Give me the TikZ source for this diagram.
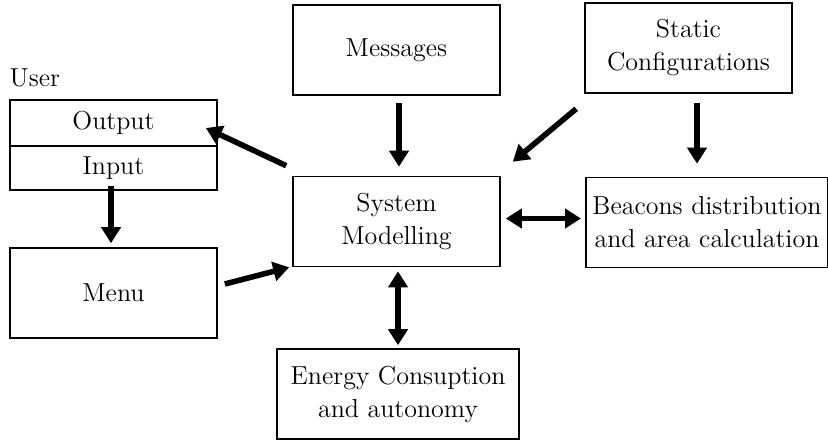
\documentclass[tikz,border=0pt]{standalone}
\usepackage{tikz}
\usetikzlibrary{positioning,calc,arrows.meta}

\begin{document}
\begin{tikzpicture}[x=0.5pt,y=-0.5pt,
    block/.style={draw, line width=0.8pt, minimum width=103.5pt, minimum height=45pt,
        align=center, font=\fontsize{13}{16.5}\selectfont},
    wideblock/.style={block, minimum width=121pt},
    arr/.style={line width=2.8pt, -{Triangle[length=8pt,width=9.5pt]}},
    dblarr/.style={line width=2.8pt, {Triangle[length=8pt,width=9.5pt]}-{Triangle[length=8pt,width=9.5pt]}}]
    \useasboundingbox (0,0) rectangle (828,441);

    % Inputs on top
    \node[block] (msg) at (396.5,50) {Messages};
    \node[block] (stat) at (688.5,48) {Static\\Configurations};

    % Model and its modules
    \node[block] (sys) at (396.5,221.5) {System\\Modelling};
    \node[wideblock] (bcn) at (707,222.5) {Beacons distribution\\and area calculation};
    \node[wideblock] (nrg) at (398,394) {Energy Consuption\\and autonomy};

    % User side
    \node[block, minimum height=23pt] (out) at (113.5,123) {Output};
    \node[block, minimum height=22pt] (in) at (113.5,168) {Input};
    \node[font=\fontsize{13}{16.5}\selectfont, above right=2.7pt and -3.3pt of out.north west] (user) {User};
    \node[block] (menu) at (113.5,293) {Menu};

    % Arrows
    \draw[arr] ([shift={(2.5,7)}]msg.south) -- ([shift={(2.5,-9)}]sys.north);
    \draw[arr] ([shift={(-8,15)}]stat.south west) -- ([shift={(12,-14)}]sys.north east);
    \draw[arr] ([shift={(8.5,9)}]stat.south) -- ([shift={(-10,-13)}]bcn.north);
    \draw[arr] ([shift={(-6,-10)}]sys.north west) -- ([shift={(-12,5)}]out.east);
    \draw[arr] ([shift={(-2.5,-5)}]in.south) -- ([shift={(-2.5,-4)}]menu.north);
    \draw[arr] ([shift={(7,-9)}]menu.east) -- ([shift={(-3,0)}]sys.south west);
    \draw[dblarr] ([shift={(5,-3)}]sys.east) -- ([shift={(-4,-4)}]bcn.west);
    \draw[dblarr] ([shift={(1.5,4)}]sys.south) -- ([shift={(0,-3)}]nrg.north);
\end{tikzpicture}
\end{document}
